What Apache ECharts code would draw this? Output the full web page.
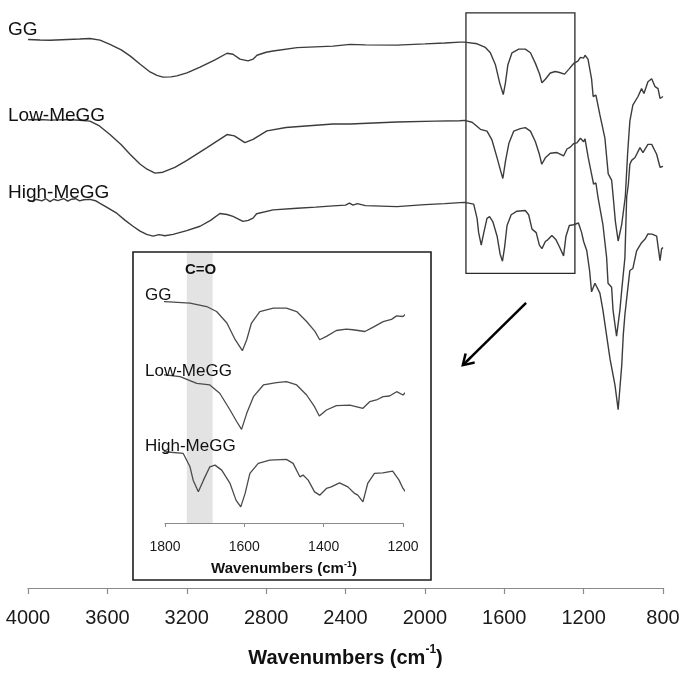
<!DOCTYPE html>
<html>
<head>
<meta charset="utf-8">
<script src="https://cdn.jsdelivr.net/npm/echarts@6/dist/echarts.min.js"></script>
<style>
html,body{margin:0;padding:0;background:#fff;}
#chart{width:684px;height:673px;}
</style>
</head>
<body>
<div id="chart"></div>
<script>
// Wavenumber (cm-1) vs. transmittance (arbitrary units, curves offset)
const ggData = [[4000,558],[3940,557.5],[3889,557.2],[3800,558],[3740,558.5],[3688,559],[3637,557.3],[3587,553],[3530,547.5],[3486,541.3],[3436,533],[3385,525],[3350,521.5],[3320,519.7],[3280,520],[3250,521],[3199,524],[3133,530],[3060,537],[2997,544],[2967,543],[2932,538],[2891,536.3],[2866,538],[2846,542],[2800,545],[2765,546.3],[2644,549.7],[2463,551.3],[2377,553],[2300,552.5],[2141,552.3],[2000,553.5],[1900,554.5],[1823,555.3],[1800,555.3],[1737,553.6],[1695,549.9],[1670,544.5],[1644,532],[1623,513.9],[1605,502],[1594,513.9],[1582,532],[1561,544.5],[1527,548.2],[1494,548.2],[1468,544.5],[1443,533.7],[1422,522.9],[1410,513.9],[1393,517.5],[1368,523.9],[1343,525.4],[1326,524.7],[1296,522.8],[1275,527.6],[1250,533.6],[1229,536],[1216,539.8],[1200,539.1],[1193,542],[1178,538],[1160,518],[1152,500],[1138,501.3],[1118,481.3],[1093,458],[1076,421.3],[1059,415],[1051,398],[1040,373],[1026,353],[1008,370],[990,398],[978,443],[967,475],[952,491.3],[926,500],[908,508],[896,503],[876,515],[857,518],[840,510],[825,508],[815,498],[800,500]];
const lowData = [[4000,476.3],[3940,476.6],[3889,476],[3800,476.5],[3740,475.8],[3688,475],[3640,470],[3587,461.3],[3530,451],[3486,441.3],[3436,431.3],[3400,426],[3360,422],[3320,423],[3260,428],[3199,435],[3098,448],[2997,461.3],[2960,460],[2907,453],[2866,456.3],[2796,465],[2700,468.5],[2600,470],[2463,472],[2377,472],[2141,474],[1948,475],[1823,475.3],[1800,475.7],[1762,473.8],[1720,466.6],[1687,464.8],[1662,455.8],[1636,437.6],[1619,424.9],[1607,416.6],[1594,434],[1577,452.1],[1552,464.8],[1519,467.3],[1494,468.4],[1468,464.8],[1443,453.9],[1423,441.2],[1411,431.1],[1393,437.6],[1368,442.3],[1334,443],[1301,439.5],[1284,446.6],[1267,448.5],[1250,452.1],[1234,452.8],[1216,457.5],[1200,453.9],[1193,457],[1177,438],[1160,421],[1150,411],[1138,412],[1128,398],[1103,370],[1084,336],[1077,310],[1059,306],[1052,283],[1042,268],[1034,256.3],[1017,283],[1008,303],[992,336],[983,398],[975,410],[967,431],[958,435],[941,438],[916,448],[901,443],[876,451.3],[857,451.3],[832,441.3],[815,428],[800,429]];
const highData = [[4000,394.7],[3975,393],[3960,395.5],[3930,393.8],[3910,396],[3889,393],[3870,395.5],[3850,394],[3820,396.2],[3800,393.5],[3780,395.5],[3760,396],[3740,393.8],[3720,395],[3688,395.3],[3660,394],[3637,391.3],[3600,387],[3553,381.3],[3510,374],[3471,368],[3435,363],[3402,359.7],[3370,358],[3340,359.5],[3310,358.3],[3269,359.7],[3200,363.5],[3133,368],[3080,374],[3033,381],[2997,380],[2967,378],[2917,373],[2890,374],[2866,376.3],[2848,380.7],[2765,384.7],[2644,386.3],[2550,387.5],[2463,388.7],[2400,389.5],[2380,391.5],[2362,389.5],[2340,391],[2300,389],[2141,388],[2000,390],[1900,391],[1823,392],[1800,392.3],[1754,390.5],[1737,376],[1729,361.5],[1716,348.8],[1703,361.5],[1687,376],[1674,377.8],[1657,372.4],[1636,357.9],[1621,339.8],[1609,332.5],[1598,347.1],[1586,368.8],[1565,379.7],[1536,383.3],[1494,384],[1477,379.7],[1460,365.1],[1452,367],[1439,361.5],[1423,348.8],[1410,345.2],[1393,352.5],[1381,354.2],[1360,358.6],[1339,354.2],[1322,347.1],[1314,345.2],[1301,337.9],[1289,357.9],[1272,368.8],[1251,369.5],[1226,371.3],[1210,361.5],[1200,352.5],[1184,343],[1170,323],[1160,301.3],[1143,310],[1118,300],[1103,283],[1085,258],[1067,233],[1042,206.3],[1026,181.3],[1008,226.3],[1000,258],[992,278],[980,300],[967,323],[952,325],[933,343],[908,351.3],[890,355],[876,360.3],[855,360],[832,358],[815,333],[807,345],[800,346.3]];

const seriesNames = ['GG', 'Low-MeGG', 'High-MeGG'];
const mainTicks = [4000, 3600, 3200, 2800, 2400, 2000, 1600, 1200, 800];
const insetTicks = [1800, 1600, 1400, 1200];
const carbonylBand = [1745, 1680];
const zoomBox = [[1793, 585], [1244, 320]];
const arrowLine = [[1490, 290], [1792, 230]];

const FONT = "'Liberation Sans', Arial, Helvetica, sans-serif";
const lineCol = '#3c3c3c';
const chart = echarts.init(document.getElementById('chart'));

const nameRich = {
  a: {fontFamily: FONT, fontWeight: 'bold', fontSize: 20, color: '#111', lineHeight: 24, verticalAlign: 'bottom'},
  s: {fontFamily: FONT, fontWeight: 'bold', fontSize: 12, color: '#111', lineHeight: 24, verticalAlign: 'top', padding: [0, 0, 10, 0]}
};
const nameRichSmall = {
  a: {fontFamily: FONT, fontWeight: 'bold', fontSize: 15, color: '#111', lineHeight: 18},
  s: {fontFamily: FONT, fontWeight: 'bold', fontSize: 9, color: '#111', lineHeight: 18, padding: [0, 0, 8, 0]}
};

function lineSeries(data, xi, yi, extra) {
  return Object.assign({
    type: 'line', xAxisIndex: xi, yAxisIndex: yi, data: data,
    showSymbol: false, symbol: 'none', smooth: false,
    lineStyle: {color: lineCol, width: 1.4}, silent: true, clip: true
  }, extra || {});
}

const chevron = 'path://M50,0 L100,85 L86,95 L57,44 L57,100 L43,100 L43,44 L14,95 L0,85 Z';

chart.setOption({
  animation: false,
  backgroundColor: '#ffffff',
  grid: [
    {left: 28, right: 21, top: 10, bottom: 75},
    {left: 165, right: 281, top: 253, bottom: 150}
  ],
  xAxis: [
    {
      type: 'value', gridIndex: 0, inverse: true, min: 800, max: 4000, interval: 400,
      axisLine: {show: true, lineStyle: {color: '#8a8a8a', width: 1.2}},
      axisTick: {show: true, length: 6, lineStyle: {color: '#8a8a8a', width: 1.2}},
      splitLine: {show: false},
      axisLabel: {fontFamily: FONT, fontSize: 20, color: '#1a1a1a', margin: 20,
        formatter: v => mainTicks.indexOf(v) >= 0 ? String(v) : ''},
      name: '{a|Wavenumbers (cm}{s|-1}{a|)}', nameLocation: 'middle', nameGap: 56,
      nameTextStyle: {rich: nameRich}
    },
    {
      type: 'value', gridIndex: 1, inverse: true, min: 1200, max: 1800, interval: 200,
      axisLine: {show: true, lineStyle: {color: '#8a8a8a', width: 1}},
      axisTick: {show: true, length: 4, lineStyle: {color: '#8a8a8a'}},
      splitLine: {show: false},
      axisLabel: {fontFamily: FONT, fontSize: 14, color: '#1a1a1a', margin: 17,
        formatter: v => insetTicks.indexOf(v) >= 0 ? String(v) : ''},
      name: '{a|Wavenumbers (cm}{s|-1}{a|)}', nameLocation: 'middle', nameGap: 37,
      nameTextStyle: {rich: nameRichSmall}
    }
  ],
  yAxis: [
    {type: 'value', gridIndex: 0, min: 0, max: 588, show: false, splitLine: {show: false}},
    {type: 'value', gridIndex: 1, min: 315, max: 608, show: false, splitLine: {show: false}}
  ],
  series: [
    lineSeries(ggData, 0, 0, {
      name: seriesNames[0],
      markArea: {
        silent: true,
        itemStyle: {color: 'rgba(0,0,0,0)', borderColor: '#2a2a2a', borderWidth: 1.3},
        data: [[{coord: zoomBox[0]}, {coord: zoomBox[1]}]]
      },
      markLine: {
        silent: true, symbol: ['none', chevron], symbolSize: [15, 14],
        label: {show: false},
        lineStyle: {color: '#000', width: 2.5, type: 'solid'},
        data: [[{coord: arrowLine[0]}, {coord: arrowLine[1]}]]
      }
    }),
    lineSeries(lowData, 0, 0, {name: seriesNames[1]}),
    lineSeries(highData, 0, 0, {name: seriesNames[2]}),
    lineSeries(ggData, 1, 1, {
      name: seriesNames[0] + ' inset', lineStyle: {color: '#4a4a4a', width: 1.3},
      markArea: {
        silent: true,
        itemStyle: {color: '#e3e3e3'},
        data: [[{xAxis: carbonylBand[0]}, {xAxis: carbonylBand[1]}]]
      }
    }),
    lineSeries(lowData, 1, 1, {name: seriesNames[1] + ' inset', lineStyle: {color: '#4a4a4a', width: 1.3}}),
    lineSeries(highData, 1, 1, {name: seriesNames[2] + ' inset', lineStyle: {color: '#4a4a4a', width: 1.3}})
  ],
  graphic: [
    {type: 'rect', shape: {x: 133, y: 252, width: 298, height: 328},
      style: {fill: 'none', stroke: '#1e1e1e', lineWidth: 1.6}, silent: true, z: 100},
    {type: 'text', z: 100, left: 8, top: 20, style: {text: 'GG', font: '19px ' + FONT, fill: '#111'}},
    {type: 'text', z: 100, left: 8, top: 106, style: {text: 'Low-MeGG', font: '19px ' + FONT, fill: '#111'}},
    {type: 'text', z: 100, left: 8, top: 183, style: {text: 'High-MeGG', font: '19px ' + FONT, fill: '#111'}},
    {type: 'text', z: 100, left: 145, top: 287, style: {text: 'GG', font: '17px ' + FONT, fill: '#111'}},
    {type: 'text', z: 100, left: 145, top: 363, style: {text: 'Low-MeGG', font: '17px ' + FONT, fill: '#111'}},
    {type: 'text', z: 100, left: 145, top: 438, style: {text: 'High-MeGG', font: '17px ' + FONT, fill: '#111'}},
    {type: 'text', z: 100, left: 185, top: 262, style: {text: 'C=O', font: 'bold 15px ' + FONT, fill: '#111'}}
  ]
});
</script>
</body>
</html>
